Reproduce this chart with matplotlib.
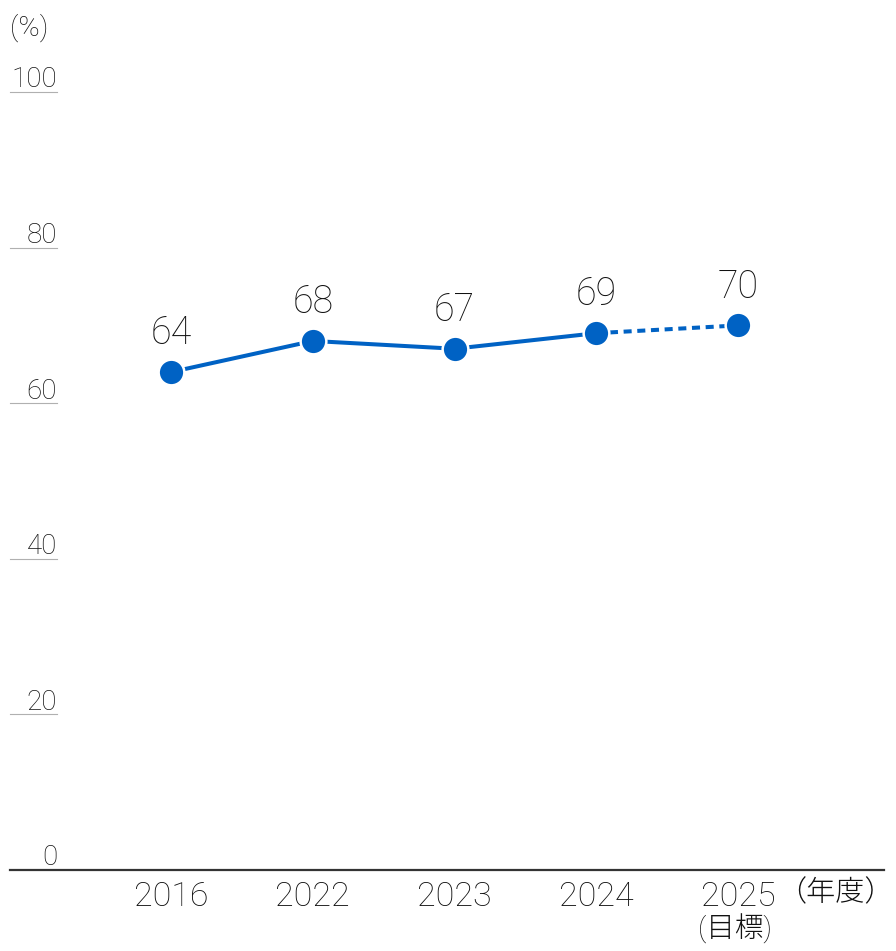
import matplotlib
matplotlib.use("Agg")
import matplotlib.pyplot as plt
import matplotlib.transforms as mtransforms

plt.rcParams["font.family"] = ["Roboto", "Noto Sans CJK JP", "DejaVu Sans"]
plt.rcParams["font.weight"] = "light"

years = ["2016", "2022", "2023", "2024", "2025"]
values = [64, 68, 67, 69, 70]
yticks = [0, 20, 40, 60, 80, 100]

BLUE = "#0062c4"
TEXT = "#111111"

fig = plt.figure(figsize=(8.96, 9.51), dpi=100)
ax = fig.add_axes([10 / 896, 81 / 951, 874 / 896, 778 / 951])
ax.set_xlim(-1.136, 5.03)
ax.set_ylim(0, 100)
ax.axis("off")

x = list(range(len(years)))
# actual values: solid, target: dotted
ax.plot(x[:4], values[:4], color=BLUE, lw=2.9, solid_capstyle="butt", zorder=2)
ax.plot(x[3:], values[3:], color=BLUE, lw=2.9, linestyle=(0, (2, 1.4)),
        dash_capstyle="butt", zorder=2)
ax.plot(x, values, "o", color=BLUE, markersize=18.5, markeredgecolor="white",
        markeredgewidth=1.8, zorder=3)

for xi, v in zip(x, values):
    ax.annotate(str(v), (xi, v), xytext=(0, 20), textcoords="offset points",
                ha="center", va="baseline", fontsize=27, color=TEXT)

# short guide lines under the y labels
trans = mtransforms.blended_transform_factory(ax.transAxes, ax.transData)
for t in yticks:
    if t > 0:
        ax.plot([0, 47 / 874], [t, t], color="#b0b0b0", lw=0.8, transform=trans,
                clip_on=False)
    ax.text(47 / 874, t + 0.6, str(t), transform=trans, ha="right", va="baseline",
            fontsize=20, color=TEXT)

# baseline
ax.plot([0, 1], [0, 0], color="#333333", lw=1.6, transform=trans, clip_on=False)

xt = mtransforms.blended_transform_factory(ax.transData, ax.transAxes)
for xi, yr in zip(x, years):
    ax.text(xi, -0.014, yr, transform=xt, ha="center", va="top", fontsize=24.5,
            color=TEXT)
ax.text(x[-1] - 0.02, -0.056, "(目標)", transform=xt, ha="center", va="top",
        fontsize=20.5, color=TEXT)
ax.text(1.0 + 10 / 874, -0.012, "（年度）", transform=ax.transAxes, ha="right",
        va="top", fontsize=21, color=TEXT, clip_on=False)

fig.text(10 / 896, 1 - 14 / 951, "(%)", ha="left", va="top", fontsize=20.5,
         color=TEXT)

fig.savefig("out.png", dpi=100)
